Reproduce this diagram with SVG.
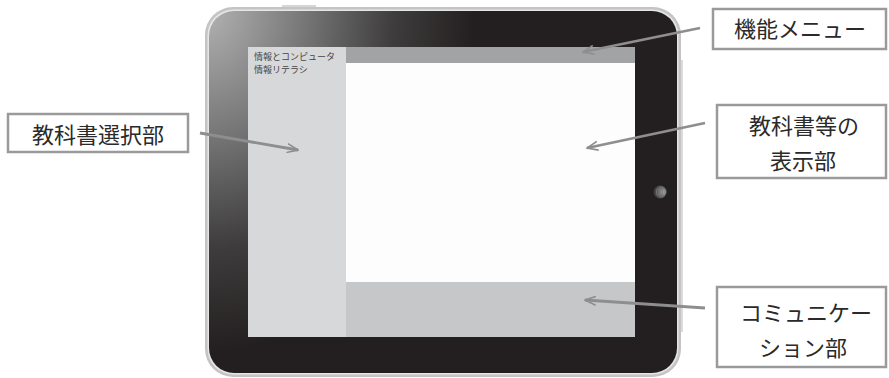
<svg xmlns="http://www.w3.org/2000/svg" width="889" height="378" viewBox="0 0 889 378">
<style>
.lbl{fill:#ffffff;stroke:#9a9a9a;stroke-width:2.5}
.lt{font-family:"Noto Sans CJK JP","Noto Sans",sans-serif;font-size:22px;fill:#2a2a2a;text-anchor:middle}
.st{font-family:"Noto Sans CJK JP","Noto Sans",sans-serif;font-size:9px;fill:#444}
.arr{stroke:#8e8e8e;stroke-width:2.8;fill:none;marker-end:url(#ah)}
</style>
<defs>
<radialGradient id="bez" gradientUnits="userSpaceOnUse" cx="0" cy="0" r="1" gradientTransform="translate(205 7) scale(270 345)">
<stop offset="0" stop-color="#b4b4b4"/>
<stop offset="0.35" stop-color="#7a7a7a"/>
<stop offset="0.7" stop-color="#3e3c3c"/>
<stop offset="1" stop-color="#231f20"/>
</radialGradient>
<radialGradient id="btn" cx="0.75" cy="0.5" r="0.75">
<stop offset="0" stop-color="#a0a0a0"/>
<stop offset="1" stop-color="#333"/>
</radialGradient>
<marker id="ah" viewBox="0 0 12 10" refX="11" refY="5" markerWidth="12" markerHeight="10" markerUnits="userSpaceOnUse" orient="auto">
<path d="M0,0.5 L11,5 L0,9.5" fill="none" stroke="#8e8e8e" stroke-width="1.6"/>
</marker>
</defs>
<g id="tablet">
<line x1="282" y1="6" x2="316" y2="6" stroke="#c8c8c8" stroke-width="1.5"/>
<line x1="682" y1="60" x2="682" y2="332" stroke="#cfcfcf" stroke-width="1.5"/>
<rect x="205" y="7" width="476" height="370" rx="28" fill="#c4c4c4"/>
<rect x="207.5" y="9.5" width="471" height="365" rx="26" fill="#e6e6e6"/>
<rect x="209" y="11" width="468" height="362" rx="25" fill="url(#bez)"/>
<circle cx="660" cy="192" r="6.5" fill="url(#btn)"/>
<rect x="656.5" y="189" width="6" height="6" rx="1.5" fill="none" stroke="#7a7a7a" stroke-width="0.8"/>
</g>
<g id="screen">
<rect x="248" y="47" width="387" height="290" fill="#fdfdfd"/>
</g>
<g id="selector">
<rect x="248" y="47" width="98" height="290" fill="#d7d8da"/>
<text class="st" x="254" y="60">情報とコンピュータ</text>
<text class="st" x="254" y="73">情報リテラシ</text>
</g>
<g id="menu">
<rect x="346" y="47" width="289" height="16" fill="#a2a3a5"/>
</g>
<g id="display">
<rect x="346" y="63" width="289" height="219" fill="#fdfdfd"/>
</g>
<g id="comm">
<rect x="346" y="282" width="289" height="55" fill="#c6c7c9"/>
</g>
<g id="connectors">
<line class="arr" x1="200" y1="133" x2="298" y2="150"/>
<line class="arr" x1="700" y1="28" x2="583" y2="52"/>
<line class="arr" x1="705" y1="123" x2="587" y2="148"/>
<line class="arr" x1="705" y1="308" x2="585" y2="300"/>
</g>
<g id="label-select">
<rect class="lbl" x="8" y="114" width="180" height="38"/>
<text class="lt" x="98" y="143">教科書選択部</text>
</g>
<g id="label-menu">
<rect class="lbl" x="713" y="9" width="173" height="40"/>
<text class="lt" x="800" y="37">機能メニュー</text>
</g>
<g id="label-display">
<rect class="lbl" x="717" y="105" width="169" height="73"/>
<text class="lt" x="804" y="134">教科書等の</text>
<text class="lt" x="803" y="169">表示部</text>
</g>
<g id="label-comm">
<rect class="lbl" x="717" y="287" width="169" height="80"/>
<text class="lt" x="806" y="321">コミュニケー</text>
<text class="lt" x="803" y="356">ション部</text>
</g>
</svg>
